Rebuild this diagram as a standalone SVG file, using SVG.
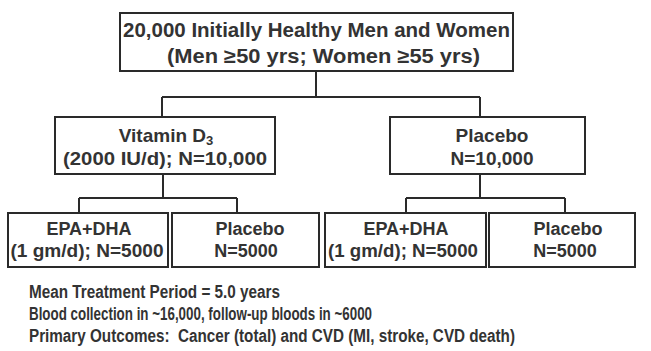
<svg xmlns="http://www.w3.org/2000/svg" width="651" height="351" viewBox="0 0 651 351">
<style>
.box{fill:#fff;stroke:#2a2a2a;stroke-width:2}
.ln{fill:none;stroke:#2a2a2a;stroke-width:2}
text{font-family:"Liberation Sans",Arial,sans-serif;font-weight:bold;fill:#333;font-size:18px}
.c{text-anchor:middle}
.t{font-size:20px}
.m{font-size:19px}
.b{font-size:18px}
</style>
<rect width="651" height="351" fill="#fff"/>
<g id="connectors">
<path class="ln" d="M316 71V97M162 97H480M162 97V117M480 97V117"/>
<path class="ln" d="M163 174V198M79 198H237M79 198V213M237 198V213"/>
<path class="ln" d="M480 174V198M406 198H565M406 198V213M565 198V213"/>
</g>
<g id="top">
<rect class="box" x="120" y="13" width="393" height="58"/>
<text x="316.5" y="37" class="c t" textLength="387" lengthAdjust="spacingAndGlyphs">20,000 Initially Healthy Men and Women</text>
<text x="323.5" y="63" class="c t" textLength="313" lengthAdjust="spacingAndGlyphs">(Men ≥50 yrs; Women ≥55 yrs)</text>
</g>
<g id="vitd">
<rect class="box" x="55" y="117" width="220" height="57"/>
<text x="166" y="142" class="c m">Vitamin D<tspan font-size="13" dy="3">3</tspan></text>
<text x="165" y="165" class="c m" textLength="204" lengthAdjust="spacingAndGlyphs">(2000 IU/d); N=10,000</text>
</g>
<g id="placebo">
<rect class="box" x="390" y="117" width="195" height="57"/>
<text x="492" y="142" class="c m">Placebo</text>
<text x="492" y="165" class="c m">N=10,000</text>
</g>
<g id="epa1">
<rect class="box" x="8" y="213" width="160" height="54"/>
<text x="89" y="235" class="c">EPA+DHA</text>
<text x="87" y="257" class="c" textLength="153" lengthAdjust="spacingAndGlyphs">(1 gm/d); N=5000</text>
</g>
<g id="plac1">
<rect class="box" x="172" y="213" width="147" height="54"/>
<text x="250" y="235" class="c">Placebo</text>
<text x="246" y="257" class="c">N=5000</text>
</g>
<g id="epa2">
<rect class="box" x="325" y="213" width="161" height="54"/>
<text x="406" y="235" class="c">EPA+DHA</text>
<text x="403" y="257" class="c" textLength="150" lengthAdjust="spacingAndGlyphs">(1 gm/d); N=5000</text>
</g>
<g id="plac2">
<rect class="box" x="489" y="213" width="146" height="54"/>
<text x="568" y="235" class="c">Placebo</text>
<text x="565" y="257" class="c">N=5000</text>
</g>
<g id="notes">
<text x="29" y="298" class="b" textLength="251" lengthAdjust="spacingAndGlyphs">Mean Treatment Period = 5.0 years</text>
<text x="29" y="320" class="b" textLength="343" lengthAdjust="spacingAndGlyphs">Blood collection in ~16,000, follow-up bloods in ~6000</text>
<text x="29" y="342" class="b" textLength="486" lengthAdjust="spacingAndGlyphs" xml:space="preserve">Primary Outcomes:  Cancer (total) and CVD (MI, stroke, CVD death)</text>
</g>
</svg>
